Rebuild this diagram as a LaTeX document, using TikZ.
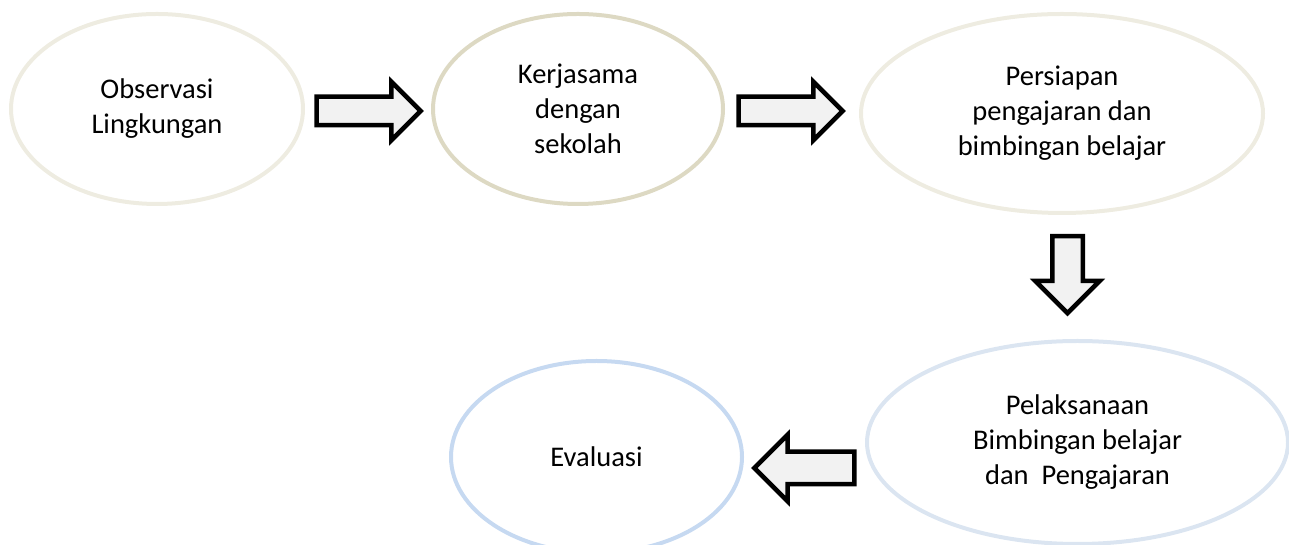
\documentclass[tikz,border=0pt]{standalone}
\usepackage{fontspec}
\setmainfont{Carlito}
\usepackage{tikz}
\usetikzlibrary{shapes.geometric, shapes.arrows, positioning}
\definecolor{tanlight}{HTML}{EEECE1}
\definecolor{tandark}{HTML}{DDD9C3}
\definecolor{bluelight}{HTML}{DBE5F1}
\definecolor{bluemid}{HTML}{C6D9F1}
\definecolor{arrowgray}{HTML}{F2F2F2}

\begin{document}
\begin{tikzpicture}[x=1pt, y=1pt,
		font=\fontsize{28.5}{35}\selectfont,
		stage/.style={ellipse, line width=4pt, text=black, align=center, inner sep=0pt},
		blockarrow/.style={draw=black, single arrow, line width=4.5pt, fill=arrowgray,
			inner xsep=0pt, minimum width=0pt}]
		
		\useasboundingbox (0,0) rectangle (1289,545);
		
		% Nodes
		\node[stage, draw=tanlight, minimum width=292pt, minimum height=190pt] (obs) at (157,436)
			{Observasi\\Lingkungan};
		\node[stage, draw=tandark, minimum width=290pt, minimum height=190pt] (ker) at (578,436)
			{Kerjasama\\dengan\\sekolah};
		\node[stage, draw=tanlight, minimum width=402pt, minimum height=199pt] (per) at (1062,431.5)
			{Persiapan\\pengajaran dan\\bimbingan belajar};
		\node[stage, draw=bluelight, minimum width=421pt, minimum height=203pt] (pel) at (1077.5,102.5)
			{Pelaksanaan\\Bimbingan belajar\\dan~ Pengajaran};
		\node[stage, draw=bluemid, minimum width=291pt, minimum height=192pt] (eva) at (596.5,88)
			{Evaluasi};
		
		% Arrows
		\node[blockarrow, minimum height=104pt, inner ysep=12pt, single arrow head extend=15pt] (obs2ker) at (361.5,434) {};
		\node[blockarrow, minimum height=104pt, inner ysep=12pt, single arrow head extend=15pt] (ker2per) at (783.5,434) {};
		\node[blockarrow, minimum height=77pt, inner ysep=13pt, single arrow head extend=17pt, rotate=-90] (per2pel) at (1067.5,278) {};
		\node[blockarrow, minimum height=100pt, inner ysep=14pt, single arrow head extend=17pt, rotate=180] (pel2eva) at (812.5,77) {};
		
\end{tikzpicture}
\end{document}
